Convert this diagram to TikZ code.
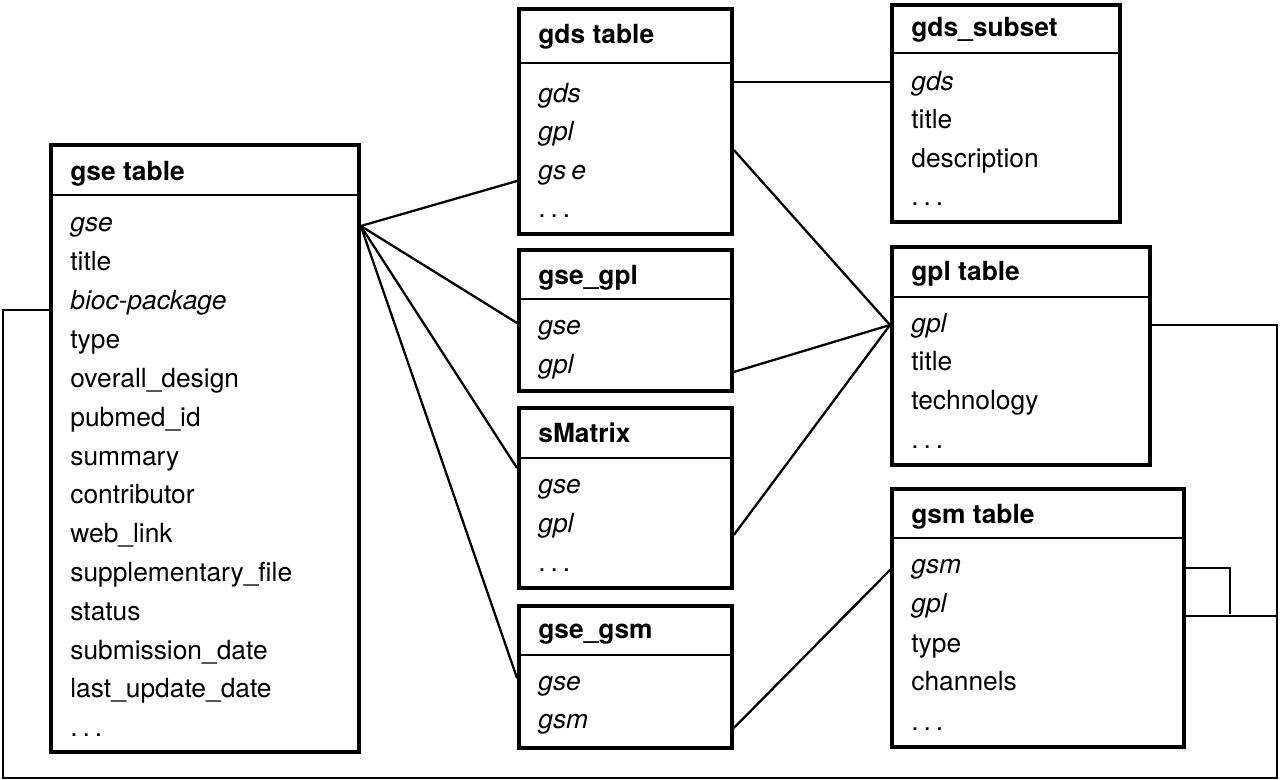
\documentclass[tikz,border=0pt]{standalone}
\usepackage{fontspec}
\setmainfont{TeX Gyre Heros}
\newcommand{\tblfont}{\fontsize{15}{18}\selectfont}
\newcommand{\etc}{.\kern2.8pt.\kern2.8pt.}
\tikzset{
  tbl/.style={draw, line width=2.2pt, inner sep=0pt, anchor=north west},
  hdr/.style={anchor=base west, inner sep=0pt, font=\tblfont\bfseries},
  fld/.style={anchor=base west, inner sep=0pt, font=\tblfont},
  key/.style={anchor=base west, inner sep=0pt, font=\tblfont\itshape},
  sep/.style={line width=1.1pt},
  link/.style={line width=1.3pt},
}
\begin{document}
\begin{tikzpicture}[x=0.02cm, y=-0.02cm]
\useasboundingbox (0,0) rectangle (1280,780);

% gse table
\node[tbl, minimum width=6.16cm, minimum height=12.14cm] (gse) at (49,143){};
\draw[sep] (gse.west |- 0,195) -- (gse.east |- 0,195);
\node[hdr] (gse-h) at (70,181){gse table};
\node[key] (gse-r0) at (70,232){gse};
\node[fld] (gse-r1) at (70,271){title};
\node[key] (gse-r2) at (70,310){bioc-package};
\node[fld] (gse-r3) at (70,348){type};
\node[fld] (gse-r4) at (70,387){overall\_design};
\node[fld] (gse-r5) at (70,426){pubmed\_id};
\node[fld] (gse-r6) at (70,465){summary};
\node[fld] (gse-r7) at (70,503){contributor};
\node[fld] (gse-r8) at (70,542){web\_link};
\node[fld] (gse-r9) at (70,581){supplementary\_file};
\node[fld] (gse-r10) at (70,620){status};
\node[fld] (gse-r11) at (70,659){submission\_date};
\node[fld] (gse-r12) at (70,697){last\_update\_date};
\node[fld] (gse-r13) at (70,736){\etc};

% gds table
\node[tbl, minimum width=4.26cm, minimum height=4.5cm] (gds) at (517,7){};
\draw[sep] (gds.west |- 0,63) -- (gds.east |- 0,63);
\node[hdr] (gds-h) at (538,44){gds table};
\node[key] (gds-r0) at (538,103){gds};
\node[key] (gds-r1) at (538,141){gpl};
\node[key] (gds-r2) at (538,180){gs\kern3pt e};
\node[fld] (gds-r3) at (538,218){\etc};

% gds_subset
\node[tbl, minimum width=4.56cm, minimum height=4.34cm] (gdssub) at (890,3){};
\draw[sep] (gdssub.west |- 0,53) -- (gdssub.east |- 0,53);
\node[hdr] (gdssub-h) at (911,37){gds\_subset};
\node[key] (gdssub-r0) at (911,91){gds};
\node[fld] (gdssub-r1) at (911,129){title};
\node[fld] (gdssub-r2) at (911,168){description};
\node[fld] (gdssub-r3) at (911,206){\etc};

% gse_gpl
\node[tbl, minimum width=4.26cm, minimum height=2.82cm] (gsegpl) at (517,248){};
\draw[sep] (gsegpl.west |- 0,299) -- (gsegpl.east |- 0,299);
\node[hdr] (gsegpl-h) at (538,285){gse\_gpl};
\node[key] (gsegpl-r0) at (538,335){gse};
\node[key] (gsegpl-r1) at (538,373){gpl};

% sMatrix
\node[tbl, minimum width=4.26cm, minimum height=3.6cm] (smx) at (517,406){};
\draw[sep] (smx.west |- 0,458) -- (smx.east |- 0,458);
\node[hdr] (smx-h) at (538,442){sMatrix};
\node[key] (smx-r0) at (538,493){gse};
\node[key] (smx-r1) at (538,532){gpl};
\node[fld] (smx-r2) at (538,571){\etc};

% gse_gsm
\node[tbl, minimum width=4.26cm, minimum height=2.84cm] (gsegsm) at (517,604){};
\draw[sep] (gsegsm.west |- 0,655) -- (gsegsm.east |- 0,655);
\node[hdr] (gsegsm-h) at (538,638){gse\_gsm};
\node[key] (gsegsm-r0) at (538,690){gse};
\node[key] (gsegsm-r1) at (538,728){gsm};

% gpl table
\node[tbl, minimum width=5.16cm, minimum height=4.36cm] (gpl) at (890,245){};
\draw[sep] (gpl.west |- 0,297) -- (gpl.east |- 0,297);
\node[hdr] (gpl-h) at (911,280){gpl table};
\node[key] (gpl-r0) at (911,332){gpl};
\node[fld] (gpl-r1) at (911,370){title};
\node[fld] (gpl-r2) at (911,409){technology};
\node[fld] (gpl-r3) at (911,448){\etc};

% gsm table
\node[tbl, minimum width=5.84cm, minimum height=5.16cm] (gsm) at (890,487){};
\draw[sep] (gsm.west |- 0,538) -- (gsm.east |- 0,538);
\node[hdr] (gsm-h) at (911,523){gsm table};
\node[key] (gsm-r0) at (911,573){gsm};
\node[key] (gsm-r1) at (911,612){gpl};
\node[fld] (gsm-r2) at (911,652){type};
\node[fld] (gsm-r3) at (911,690){channels};
\node[fld] (gsm-r4) at (911,730){\etc};

% links
\draw[link] (gse.east |- 0,226) -- (gds.west |- 0,181);
\draw[link] (gse.east |- 0,226) -- (gsegpl.west |- 0,323);
\draw[link] (gse.east |- 0,226) -- (smx.west |- 0,468);
\draw[link] (gse.east |- 0,226) -- (gsegsm.west |- 0,678);
\draw[link] (gds.east |- 0,82) -- (gdssub.west |- 0,82);
\draw[link] (gds.east |- 0,150) -- (gpl.west |- 0,325);
\draw[link] (gsegpl.east |- 0,372) -- (gpl.west |- 0,325);
\draw[link] (smx.east |- 0,535) -- (gpl.west |- 0,325);
\draw[link] (gsegsm.east |- 0,728) -- (gsm.west |- 0,570);
\draw[link] (gpl.east |- 0,325) -| (1277,778) -| (3,310) -- (gse.west |- 0,310);
\draw[link] (gsm.east |- 0,616) -- (1277,616);
\draw[link] (gsm.east |- 0,568) -| (1230,614);

\end{tikzpicture}
\end{document}
